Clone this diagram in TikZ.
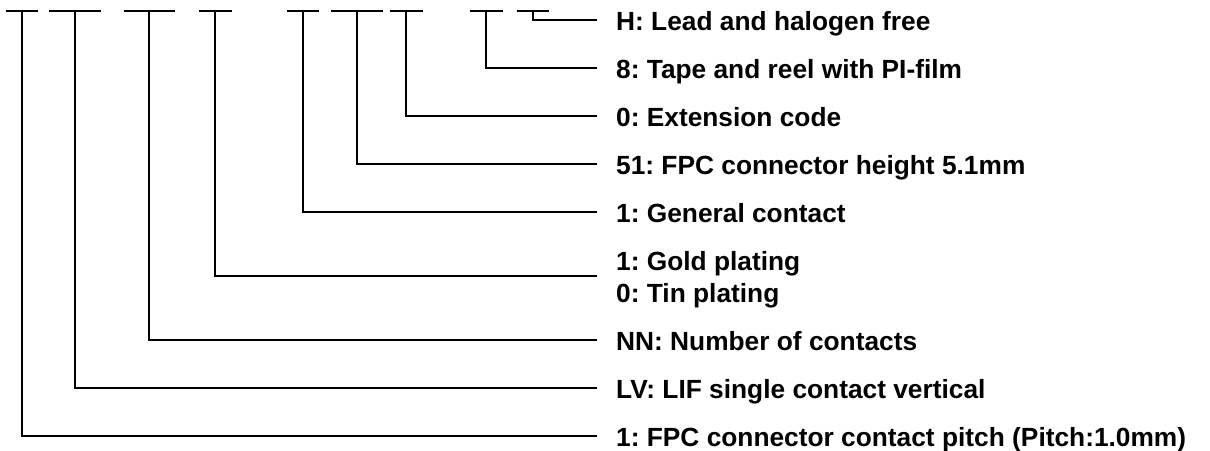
\documentclass[tikz,border=0pt]{standalone}
\usepackage{fontspec}
\setmainfont{Liberation Sans}
\frenchspacing
\begin{document}
\begin{tikzpicture}[x=1pt,y=-1pt,
  conn/.style={line width=2pt},
  dashseg/.style={line width=2.4pt},
  lbl/.style={anchor=base west,inner sep=0pt,font=\fontsize{26.3}{32}\selectfont\bfseries\frenchspacing,align=left}]
\useasboundingbox (0,0) rectangle (1210,450);
% code dashes
\foreach \a/\b in {6/38,49/101,124/175,199/232,287/319,331/383,390/423,470/503,517/549}
  \draw[dashseg] (\a,11) -- (\b,11);
% tops of connectors
\coordinate (t1) at (22,11);
\coordinate (t2) at (75,11);
\coordinate (t3) at (149,11);
\coordinate (t4) at (215,11);
\coordinate (t5) at (303,11);
\coordinate (t6) at (357,11);
\coordinate (t7) at (406,11);
\coordinate (t8) at (486,11);
\coordinate (t9) at (533,11);
% line ends
\coordinate (e9) at (597,20);
\coordinate (e8) at (597,68);
\coordinate (e7) at (597,116);
\coordinate (e6) at (597,164);
\coordinate (e5) at (597,212);
\coordinate (e4) at (597,276);
\coordinate (e3) at (597,340);
\coordinate (e2) at (597,388);
\coordinate (e1) at (597,436);
% labels
\node[lbl] (l9) at (616,30.5) {H: Lead and halogen free};
\node[lbl] (l8) at (616,78.5) {8: Tape and reel with PI-film};
\node[lbl] (l7) at (616,126.5) {0: Extension code};
\node[lbl] (l6) at (616,174.5) {51: FPC connector height 5.1mm};
\node[lbl] (l5) at (616,222.5) {1: General contact};
\node[lbl] (l4g) at (616,270) {1: Gold plating};
\node[lbl] (l4t) at (616,302) {0: Tin plating};
\node[lbl] (l3) at (616,350.5) {NN: Number of contacts};
\node[lbl] (l2) at (616,398.5) {LV: LIF single contact vertical};
\node[lbl] (l1) at (616,446.5) {1: FPC connector contact pitch (Pitch:1.0mm)};
% connectors
\foreach \i in {1,...,9}
  \draw[conn] (t\i) |- (e\i);
\end{tikzpicture}
\end{document}
